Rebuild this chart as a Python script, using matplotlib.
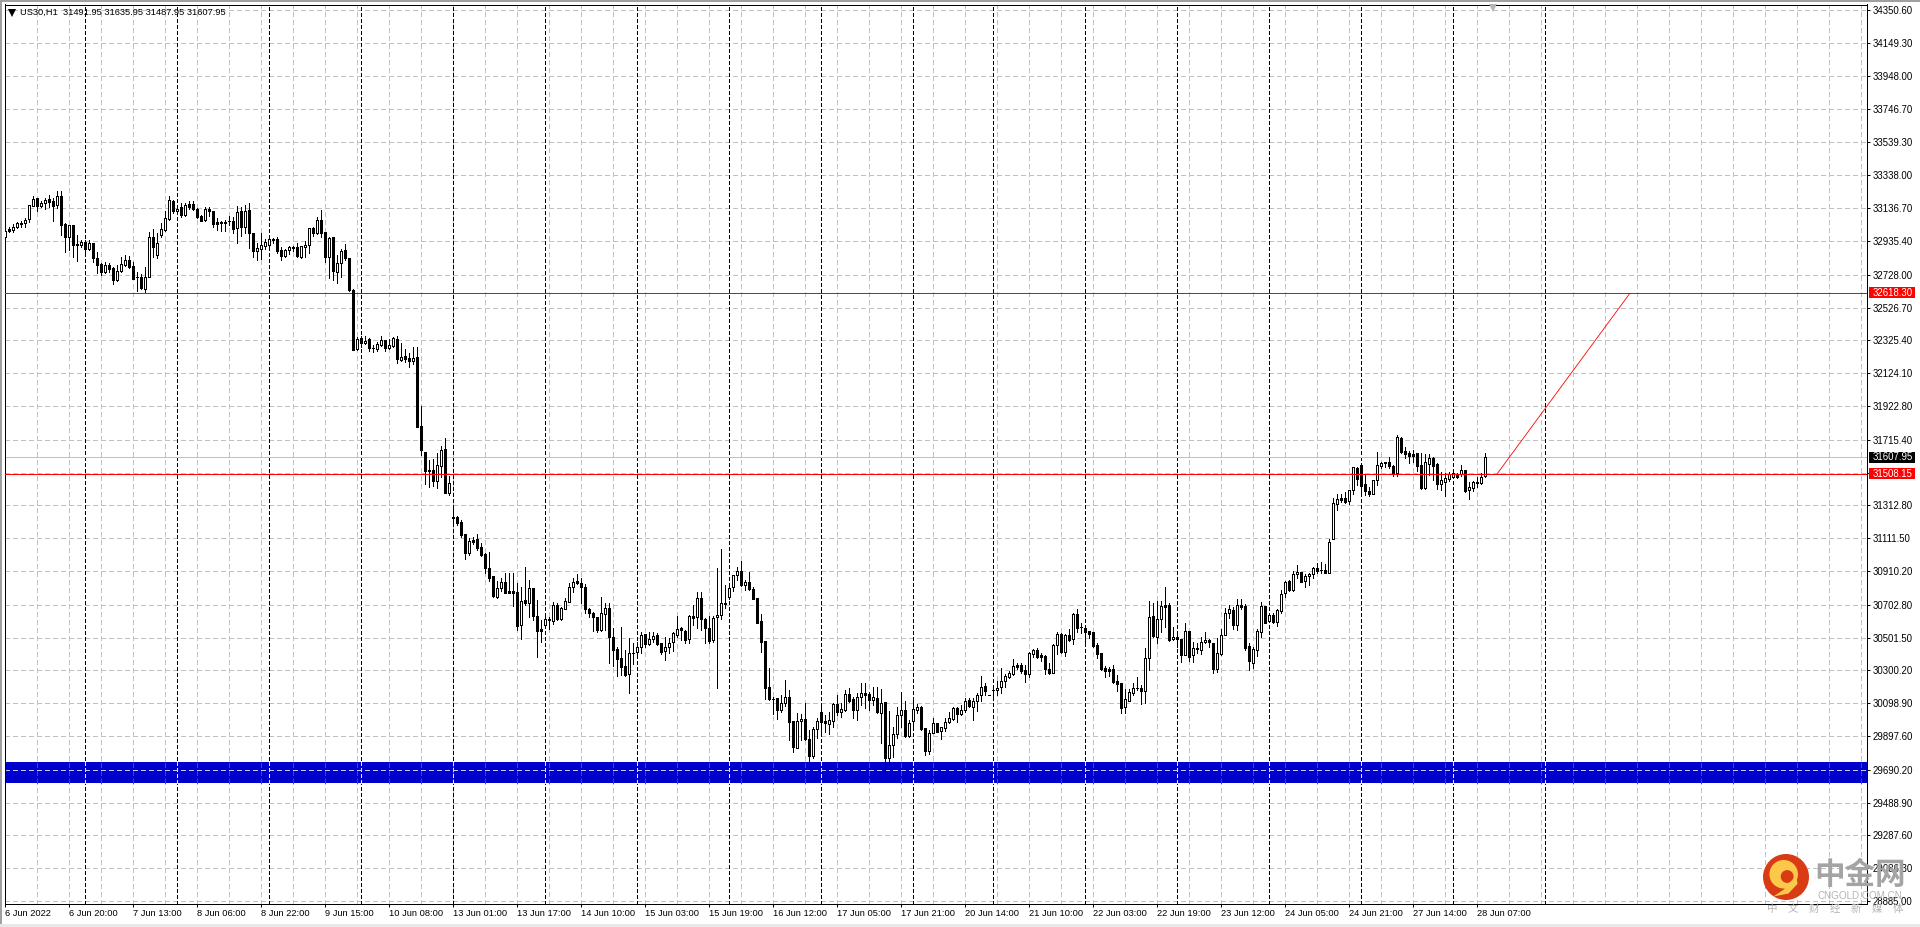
import matplotlib
matplotlib.use("Agg")
import matplotlib.pyplot as plt
from matplotlib.patches import Circle, Polygon, Rectangle

# US30 H1 bars
opens = [
    32962,33009,33003,33023,33048,33044,33068,33152,33197,33152,
    33167,33191,33179,33158,33209,33040,32958,33032,32915,32911,
    32927,32886,32921,32829,32792,32745,32786,32768,32696,32751,
    32788,32817,32782,32713,32713,32643,32717,32958,32850,32972,
    33003,33072,33179,33117,33142,33095,33160,33162,33132,33089,
    33064,33130,33117,33050,33050,33052,33058,33056,33013,33117,
    33023,33124,32984,32876,32888,32905,32911,32944,32946,32878,
    32845,32880,32897,32899,32839,32897,32909,33015,32987,33064,
    32989,32839,32958,32745,32798,32880,32829,32634,32272,32338,
    32309,32332,32279,32274,32299,32327,32278,32291,32332,32205,
    32227,32215,32201,32221,31800,31640,31528,31530,31465,31557,
    31657,31391,31244,31242,31211,31135,31019,31101,31107,31056,
    31013,30927,30878,30753,30804,30843,30786,30786,30781,30577,
    30730,30712,30804,30634,30552,30581,30616,30606,30702,30616,
    30679,30722,30810,30847,30835,30810,30675,30651,30626,30549,
    30645,30681,30503,30432,30377,30328,30279,30405,30413,30446,
    30522,30463,30491,30516,30467,30418,30446,30475,30520,30559,
    30540,30491,30632,30626,30743,30614,30563,30487,30626,30643,
    30711,30753,30814,30884,30908,30827,30841,30802,30743,30602,
    30479,30197,30127,30129,30058,30099,30135,29988,29827,29988,
    30000,29878,29776,29943,30043,29988,29974,29992,30095,30047,
    30058,30156,30125,30058,30140,30160,30156,30121,30129,30041,
    30107,29765,29845,29908,30029,30056,29898,29992,30060,30076,
    29947,29808,29919,29976,29927,29947,29986,30002,30068,30033,
    30056,30117,30078,30111,30148,30203,30148,30181,30181,30197,
    30238,30262,30279,30334,30334,30301,30281,30401,30424,30393,
    30387,30307,30287,30457,30522,30412,30516,30491,30647,30569,
    30559,30540,30536,30454,30407,30315,30307,30307,30234,30223,
    30078,30115,30164,30193,30191,30176,30375,30632,30508,30614,
    30700,30702,30491,30508,30491,30397,30540,30393,30435,30428,
    30473,30485,30467,30307,30401,30520,30655,30673,30579,30702,
    30696,30448,30348,30426,30536,30694,30606,30638,30600,30667,
    30773,30847,30794,30890,30902,30851,30878,30890,30927,30915,
    30919,30900,31105,31322,31356,31358,31340,31406,31543,31561,
    31442,31401,31385,31467,31557,31579,31581,31555,31510,31727,
    31647,31635,31628,31637,31561,31418,31569,31606,31567,31444,
    31457,31473,31489,31502,31504,31528,31410,31420,31459,31453,
    31491.95,
]
highs = [
    33003,33019,33040,33050,33058,33074,33154,33212,33197,33183,
    33197,33216,33197,33240,33240,33044,33036,33032,32970,32942,
    32942,32942,32921,32866,32798,32807,32798,32778,32788,32839,
    32847,32843,32807,32745,32733,32774,32991,33007,32982,33044,
    33122,33212,33187,33146,33167,33171,33183,33179,33136,33095,
    33142,33142,33122,33074,33058,33064,33089,33085,33150,33146,
    33154,33167,32984,32921,32982,32946,32952,32954,32958,32897,
    32884,32905,32905,32925,32905,32937,33013,33023,33081,33126,
    32989,32958,32958,32850,32886,32915,32829,32638,32344,32352,
    32352,32338,32295,32315,32352,32327,32332,32348,32352,32311,
    32272,32246,32283,32283,31923,31640,31591,31597,31636,31677,
    31724,31493,31301,31248,31223,31135,31113,31121,31137,31080,
    31019,31027,30880,30851,30869,30900,30900,30900,30839,30814,
    30937,30855,30804,30732,30610,30630,30630,30720,30712,30687,
    30743,30835,30865,30892,30865,30831,30681,30661,30630,30749,
    30712,30712,30559,30442,30565,30426,30497,30471,30477,30538,
    30522,30538,30538,30528,30471,30508,30497,30534,30634,30569,
    30549,30640,30702,30782,30782,30620,30634,30634,30931,31045,
    30825,30829,30888,30937,30972,30855,30902,30814,30743,30647,
    30479,30313,30140,30129,30150,30242,30180,29988,30037,30033,
    30103,29935,29951,30007,30099,30027,30047,30103,30150,30099,
    30180,30191,30140,30160,30221,30221,30170,30197,30201,30184,
    30107,30052,29955,30078,30166,30113,29996,30115,30092,30084,
    29947,29935,30007,29980,29955,30007,30047,30078,30078,30088,
    30129,30129,30129,30160,30266,30221,30148,30191,30236,30313,
    30279,30299,30368,30348,30344,30334,30416,30434,30438,30409,
    30395,30344,30463,30536,30528,30524,30557,30651,30677,30589,
    30569,30542,30536,30471,30409,30328,30324,30334,30272,30225,
    30189,30184,30221,30258,30211,30440,30726,30716,30726,30726,
    30810,30716,30565,30542,30495,30589,30542,30475,30467,30508,
    30536,30491,30471,30499,30555,30683,30704,30688,30737,30737,
    30708,30467,30442,30557,30720,30696,30647,30655,30675,30794,
    30851,30855,30908,30947,30906,30890,30900,30933,30962,30966,
    30953,31105,31356,31383,31383,31397,31408,31547,31551,31561,
    31500,31428,31467,31641,31581,31581,31612,31561,31743,31735,
    31669,31649,31653,31637,31632,31626,31628,31612,31571,31516,
    31510,31516,31516,31510,31561,31530,31459,31465,31485,31514,
    31635.95,
]
lows = [
    32937,32989,32991,33015,33019,33019,33054,33150,33122,33142,
    33132,33142,33058,33136,32974,32870,32880,32839,32815,32901,
    32860,32880,32809,32737,32727,32737,32747,32672,32692,32747,
    32784,32772,32700,32631,32643,32623,32713,32839,32831,32958,
    32999,33064,33105,33105,33085,33089,33134,33126,33074,33056,
    33060,33089,33023,33003,32997,32999,33034,32987,32925,32966,
    32982,32890,32835,32819,32823,32884,32884,32925,32860,32819,
    32839,32856,32876,32839,32829,32835,32860,32966,32978,32958,
    32809,32706,32696,32680,32713,32819,32631,32266,32266,32283,
    32303,32260,32254,32262,32291,32260,32270,32287,32189,32201,
    32193,32162,32180,31796,31622,31444,31428,31432,31422,31489,
    31387,31377,31207,31193,31121,30986,31011,31076,31039,31002,
    30900,30849,30753,30745,30790,30773,30777,30696,30548,30495,
    30700,30630,30610,30385,30477,30577,30552,30585,30610,30610,
    30675,30720,30784,30831,30712,30655,30630,30544,30538,30542,
    30549,30348,30328,30268,30272,30268,30164,30340,30395,30409,
    30442,30457,30477,30457,30401,30364,30409,30422,30508,30487,
    30467,30467,30579,30559,30549,30471,30471,30477,30195,30614,
    30681,30737,30790,30855,30818,30794,30794,30737,30589,30416,
    30123,30119,30031,30002,30047,30084,29874,29802,29823,29874,
    29874,29741,29765,29884,29925,29925,29908,29955,30027,30017,
    30052,30109,30007,29996,30088,30068,30058,30088,30037,29853,
    29673,29714,29771,29884,29955,29894,29894,29935,30037,29935,
    29780,29788,29915,29921,29878,29927,29980,29996,29984,30027,
    30047,30078,29996,30052,30115,30150,30147,30129,30150,30164,
    30201,30252,30274,30311,30283,30232,30258,30381,30375,30360,
    30279,30279,30283,30401,30409,30389,30483,30463,30538,30532,
    30471,30497,30442,30375,30303,30262,30266,30225,30176,30037,
    30041,30111,30150,30180,30092,30103,30303,30508,30471,30538,
    30565,30481,30487,30446,30354,30393,30358,30354,30409,30401,
    30467,30442,30287,30293,30395,30516,30622,30553,30549,30675,
    30426,30303,30317,30389,30508,30589,30600,30594,30573,30651,
    30749,30786,30790,30870,30843,30814,30825,30870,30900,30900,
    30896,30896,31105,31285,31336,31326,31322,31383,31438,31397,
    31377,31371,31383,31438,31540,31551,31540,31493,31493,31632,
    31602,31571,31581,31526,31412,31414,31500,31469,31412,31408,
    31371,31465,31485,31479,31493,31397,31352,31401,31424,31444,
    31487.95,
]
closes = [
    32997,32999,33023,33044,33040,33064,33154,33193,33152,33171,
    33185,33175,33150,33209,33034,32962,33032,32911,32913,32927,
    32886,32921,32829,32788,32743,32788,32766,32696,32753,32792,
    32819,32778,32704,32711,32647,32713,32958,32901,32921,33007,
    33074,33187,33117,33130,33095,33154,33146,33130,33085,33060,
    33130,33117,33040,33042,33044,33044,33056,33011,33113,33023,
    33122,32982,32876,32890,32909,32927,32948,32946,32876,32845,
    32878,32897,32895,32845,32903,32909,33013,32987,33062,32987,
    32839,32954,32753,32798,32874,32829,32635,32266,32332,32311,
    32323,32278,32277,32303,32325,32278,32295,32340,32211,32225,
    32209,32201,32215,31796,31653,31526,31526,31465,31559,31651,
    31391,31448,31238,31207,31131,31023,31092,31088,31053,31009,
    30931,30869,30759,30804,30841,30777,30777,30777,30575,30724,
    30712,30804,30636,30544,30544,30614,30608,30702,30618,30681,
    30724,30810,30841,30839,30814,30675,30651,30626,30548,30651,
    30681,30503,30426,30373,30324,30274,30405,30407,30442,30516,
    30463,30491,30510,30463,30413,30446,30471,30528,30557,30546,
    30487,30634,30624,30747,30614,30563,30483,30624,30643,30712,
    30710,30808,30888,30908,30827,30841,30798,30741,30593,30477,
    30195,30123,30125,30058,30099,30135,29986,29833,29992,30002,
    29878,29776,29943,29988,29986,29976,29994,30095,30047,30062,
    30156,30115,30058,30135,30160,30152,30119,30135,30047,30099,
    29763,29841,29910,30025,30056,29898,29976,30064,30074,29939,
    29808,29915,29976,29925,29951,29984,30007,30068,30033,30056,
    30111,30084,30111,30148,30201,30176,30147,30180,30195,30238,
    30266,30283,30326,30324,30299,30277,30405,30424,30385,30383,
    30307,30287,30457,30522,30416,30518,30487,30647,30563,30567,
    30538,30526,30452,30401,30307,30299,30299,30229,30219,30072,
    30123,30166,30191,30192,30176,30375,30626,30512,30614,30694,
    30692,30487,30508,30491,30397,30540,30381,30436,30434,30473,
    30485,30473,30307,30405,30520,30655,30675,30579,30700,30692,
    30438,30356,30430,30540,30694,30593,30638,30600,30671,30767,
    30841,30794,30890,30902,30845,30878,30890,30927,30913,30914,
    30900,31086,31326,31352,31346,31336,31406,31547,31475,31434,
    31401,31383,31467,31559,31571,31571,31555,31514,31735,31639,
    31628,31618,31616,31555,31418,31577,31604,31555,31444,31467,
    31479,31508,31510,31489,31528,31401,31424,31457,31448,31487,
    31607.95,
]

price_ticks = [
    34350.60, 34149.30, 33948.00, 33746.70, 33539.30, 33338.00, 33136.70,
    32935.40, 32728.00, 32526.70, 32325.40, 32124.10, 31922.80, 31715.40,
    31514.10, 31312.80, 31111.50, 30910.20, 30702.80, 30501.50, 30300.20,
    30098.90, 29897.60, 29690.20, 29488.90, 29287.60, 29086.30, 28885.00,
]
time_labels = [
    "6 Jun 2022", "6 Jun 20:00", "7 Jun 13:00", "8 Jun 06:00", "8 Jun 22:00",
    "9 Jun 15:00", "10 Jun 08:00", "13 Jun 01:00", "13 Jun 17:00", "14 Jun 10:00",
    "15 Jun 03:00", "15 Jun 19:00", "16 Jun 12:00", "17 Jun 05:00", "17 Jun 21:00",
    "20 Jun 14:00", "21 Jun 10:00", "22 Jun 03:00", "22 Jun 19:00", "23 Jun 12:00",
    "24 Jun 05:00", "24 Jun 21:00", "27 Jun 14:00", "28 Jun 07:00",
]
# bar numbers where a new day starts (period separators)
day_starts = [20, 43, 66, 89, 112, 135, 158, 181, 204, 227, 247, 270, 293, 316, 339, 362, 385]

support_level = 31508.15
resistance_level = 32618.30
bid_price = 31607.95
zone_top = 29738
zone_bottom = 29611
trend_bars = [373, 406]
trend_prices = [31508.15, 32610]

W, H = 1920, 927
PX = 0.72  # one pixel in points at dpi 100
FONT = "Liberation Sans"
TICK_SIZE = 6.9
TEXT_SIZE = 6.7

# the terminal draws everything without smoothing
plt.rcParams["lines.antialiased"] = False
plt.rcParams["patch.antialiased"] = False

fig = plt.figure(figsize=(W / 100, H / 100), dpi=100, facecolor="white")
L, R, T, B = 4.5, 1867, 4.5, 904
ax = fig.add_axes([L / W, 1 - B / H, (R - L) / W, (B - T) / H], facecolor="white")

ax.set_xlim(-0.2, 465.4)
ax.set_ylim(28867, 34386)

# grid
bars_all = range(len(opens))
grid_x = list(range(8, 466, 8))
grey_dash = (0, (5, 3))
black_dash = (0, (3.5, 2.5))
for x in grid_x:
    ax.axvline(x, color="#c0c0c0", lw=PX, ls=grey_dash, zorder=1)
for y in price_ticks:
    ax.axhline(y, color="#c0c0c0", lw=PX, ls=grey_dash, zorder=1)
for x in day_starts:
    ax.axvline(x, color="black", lw=PX, ls=black_dash, zorder=1.5)

# blue zone with the grid showing through it
ax.axhspan(zone_bottom, zone_top, color="#0000cc", lw=0, zorder=2)
for x in grid_x:
    ax.plot([x, x], [zone_bottom, zone_top], color="#4040e8", lw=PX, ls=grey_dash, zorder=2.1)
for x in day_starts:
    ax.plot([x, x], [zone_bottom, zone_top], color="#ffff40", lw=PX, ls=black_dash, zorder=2.2)
ax.plot([-0.2, 465.4], [29690.20, 29690.20], color="#c8c8ff", lw=PX, ls=grey_dash, zorder=2.2)

# level lines
ax.axhline(bid_price, color="#c0c0c0", lw=PX, zorder=2.5)
ax.axhline(resistance_level, color="#ff0000", lw=PX, zorder=3)
ax.axhline(support_level, color="#ff0000", lw=PX, zorder=5)
ax.plot(trend_bars, trend_prices, color="#ff0000", lw=0.6, antialiased=True, zorder=5)

# candles
for i, (lo, hi) in enumerate(zip(lows, highs)):
    ax.plot([i, i], [lo, hi], color="black", lw=PX, solid_capstyle="butt", zorder=3.5)
for i, (o, c) in enumerate(zip(opens, closes)):
    up = c >= o
    ax.bar(i, abs(c - o), bottom=min(o, c), width=0.5,
           facecolor="white" if up else "black", edgecolor="black",
           lw=PX, zorder=4)

# chart shift marker
ax.plot([371.9], [34362], marker="v", ms=6, color="#b4b4b4", mew=0, zorder=6, clip_on=False)

# axes
for side in ["left", "right", "top", "bottom"]:
    ax.spines[side].set_linewidth(PX)
    ax.spines[side].set_color("black")
ax.yaxis.tick_right()
ax.set_yticks(price_ticks)
ax.set_yticklabels([f"{v:.2f}" for v in price_ticks], fontsize=TICK_SIZE, family=FONT)
ax.tick_params(axis="y", length=2.2, width=PX, pad=1.6, color="black")
ax.set_xticks(list(range(0, 16 * len(time_labels), 16)))
ax.set_xticklabels(time_labels, fontsize=TEXT_SIZE, family=FONT, ha="left")
ax.tick_params(axis="x", length=2.2, width=PX, pad=1.7, color="black")

# price tags on the scale
tag_trans = ax.get_yaxis_transform()
for value, bg in [(resistance_level, "#ff0000"), (bid_price, "#000000"), (support_level, "#ff0000")]:
    ax.add_patch(Rectangle((1.00107, value - 33), 0.0247, 66, transform=tag_trans, fc=bg, ec="none",
                           clip_on=False, zorder=8))
    ax.text(1.0032, value, f"{value:.2f}", transform=tag_trans, color="white", va="center", ha="left",
            fontsize=TICK_SIZE, family=FONT, zorder=9, clip_on=False)

# header
ax.plot([0.0038], [0.991], transform=ax.transAxes, marker="v", ms=5.5, color="black", mew=0, zorder=7)
fig.text(20 / W, 1 - 12.5 / H, "US30,H1  31491.95 31635.95 31487.95 31607.95",
         fontsize=TEXT_SIZE, family=FONT, va="center", ha="left", color="black")

# window edges
fig.add_artist(Rectangle((0, 1 - 2 / H), 1, 2 / H, transform=fig.transFigure, fc="#a0a0a0", ec="none"))
fig.add_artist(Rectangle((0, 0), 2 / W, 1, transform=fig.transFigure, fc="#a0a0a0", ec="none"))
fig.add_artist(Rectangle((0, 0), 1, 3 / H, transform=fig.transFigure, fc="#e8e8e8", ec="none"))

# watermark
logo = fig.add_axes([1763 / W, 1 - 900 / H, 46 / W, 46 / H], zorder=10)
logo.set_xlim(-1, 1)
logo.set_ylim(-1, 1)
logo.axis("off")
logo.patch.set_alpha(0)
logo.add_patch(Circle((0, 0), 1, fc="#d93c15", ec="none", antialiased=True))
logo.add_patch(Circle((-0.1, 0.12), 0.62, fc="#fbc84a", ec="none", antialiased=True))
logo.add_patch(Circle((0.05, 0.02), 0.28, fc="#d93c15", ec="none", antialiased=True))
logo.add_patch(Polygon([(0.45, 0.05), (0.5, -0.3), (0.1, -0.72), (-0.55, -0.85), (-0.1, -0.55), (0.15, -0.25)],
                       fc="#fbc84a", ec="none", antialiased=True))

cjk = ["Noto Sans CJK SC", "DejaVu Sans"]
fig.text(1860 / W, 1 - 875 / H, "中金网", fontsize=22, weight="black", family=cjk, color="#a4a4a4",
         ha="center", va="center", zorder=11)
fig.text(1860 / W, 1 - 896 / H, "CNGOLD.COM.CN", fontsize=7.1, family=FONT, color="#b4b4b4",
         ha="center", va="center", zorder=11)
fig.text(1835 / W, 1 - 909 / H, "中\u3000文\u3000财\u3000经\u3000新\u3000媒\u3000体", fontsize=7.6, family=cjk,
         color="#b4b4b4", ha="center", va="center", zorder=11)

fig.savefig("out.png", dpi=100, facecolor=fig.get_facecolor())
